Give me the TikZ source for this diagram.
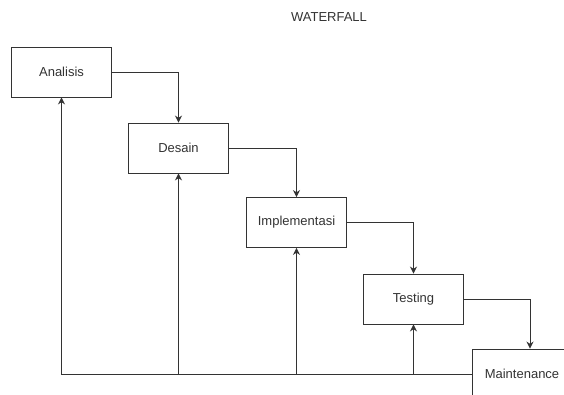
\documentclass[tikz,border=0pt]{standalone}
\usepackage{fontspec}
\setmainfont{Liberation Sans}
\usetikzlibrary{arrows.meta}
\definecolor{txt}{HTML}{333333}
\definecolor{ln}{HTML}{333333}
\tikzset{
  stage/.style={draw=ln, line width=0.9pt, fill=white, minimum width=100pt, minimum height=50pt, inner sep=0pt, font=\fontsize{13}{15}\selectfont, text=txt},
  flow/.style={draw=ln, line width=0.9pt, -{Stealth[length=7pt,width=7pt]}},
}
\begin{document}
\begin{tikzpicture}[x=1pt,y=-1pt]
\useasboundingbox (0,0) rectangle (564,395);
\clip (0,0) rectangle (564,395);
\node[font=\fontsize{13}{15}\selectfont, text=txt] (title) at (329,17) {WATERFALL};
\node[stage] (A) at (61.5,72) {Analisis};
\node[stage] (D) at (178.5,148) {Desain};
\node[stage] (I) at (296.5,222.5) {Implementasi};
\node[stage] (T) at (413.5,299) {Testing};
\node[stage] (M) at (522,374) {Maintenance};
\draw[flow] (A.east) -| (D.north);
\draw[flow] (D.east) -| (I.north);
\draw[flow] (I.east) -| (T.north);
\draw[flow] (T.east) -| ([xshift=8pt]M.north);
\draw[flow] (M.west) -| (A.south);
\draw[flow] (M.west) -| (D.south);
\draw[flow] (M.west) -| (I.south);
\draw[flow] (M.west) -| (T.south);
\end{tikzpicture}
\end{document}
